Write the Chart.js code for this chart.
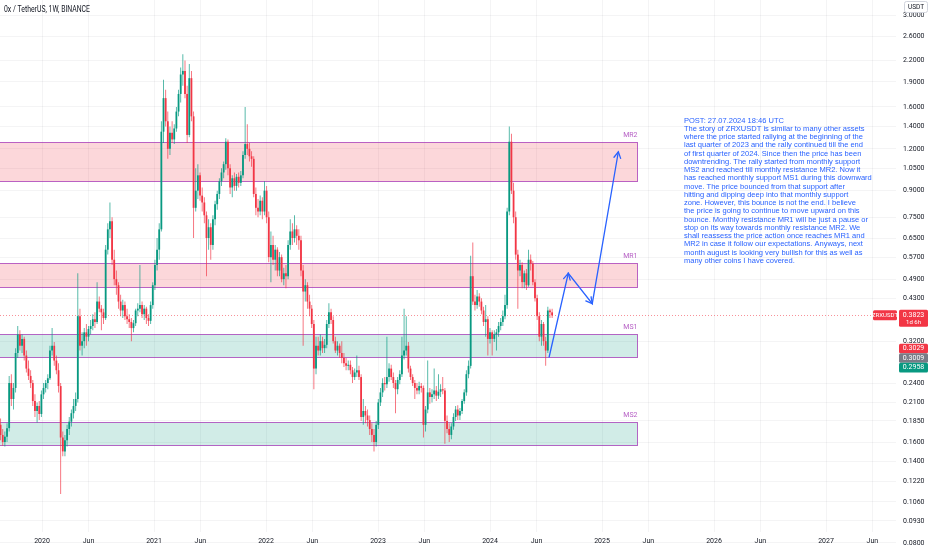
<!DOCTYPE html>
<html><head><meta charset="utf-8">
<script src="https://cdn.jsdelivr.net/npm/chart.js@4.4.1/dist/chart.umd.min.js"></script>
<style>html,body{margin:0;padding:0;background:#fff;overflow:hidden}#wrap{width:932px;height:550px}canvas{display:block}</style>
</head><body><div id="wrap"><canvas id="c" width="932" height="550" style="width:932px;height:550px"></canvas></div>
<script>
// ---- data ----
const firstWeek = '2019-08-19';
const weekOpen = [
0.180,0.168,0.160,0.166,0.176,0.240,0.215,0.232,0.295,0.335,
0.310,0.325,0.290,0.265,0.252,0.240,0.212,0.198,0.205,0.194,
0.222,0.232,0.240,0.248,0.300,0.310,0.280,0.262,0.235,0.165,
0.150,0.162,0.175,0.184,0.195,0.205,0.215,0.380,0.310,0.320,
0.340,0.330,0.348,0.355,0.372,0.365,0.420,0.400,0.390,0.375,
0.600,0.690,0.730,0.560,0.490,0.470,0.420,0.395,0.410,0.380,
0.372,0.365,0.350,0.362,0.395,0.400,0.410,0.385,0.400,0.375,
0.368,0.410,0.470,0.540,0.600,0.690,1.350,1.700,1.450,1.200,
1.340,1.280,1.380,1.550,1.750,2.000,2.050,1.750,1.320,1.950,
1.500,0.800,0.900,1.000,0.870,0.830,0.760,0.650,0.700,0.620,
0.740,0.820,0.880,0.960,1.020,1.080,1.260,1.050,0.920,0.980,
0.930,0.990,0.950,1.000,1.150,1.240,1.200,1.140,1.120,0.880,
0.800,0.780,0.840,0.780,0.900,0.750,0.570,0.620,0.560,0.600,
0.520,0.570,0.490,0.510,0.500,0.620,0.680,0.650,0.690,0.660,
0.640,0.520,0.450,0.470,0.420,0.400,0.360,0.265,0.310,0.300,
0.320,0.305,0.312,0.360,0.390,0.370,0.320,0.300,0.310,0.295,
0.285,0.275,0.270,0.272,0.262,0.250,0.258,0.262,0.250,0.190,
0.198,0.192,0.186,0.175,0.168,0.160,0.180,0.210,0.225,0.240,
0.238,0.250,0.265,0.250,0.240,0.230,0.245,0.255,0.290,0.300,
0.310,0.265,0.250,0.240,0.232,0.228,0.235,0.232,0.180,0.200,
0.225,0.218,0.222,0.228,0.220,0.226,0.230,0.228,0.185,0.175,
0.168,0.178,0.190,0.200,0.192,0.198,0.212,0.225,0.255,0.270,
0.500,0.420,0.410,0.435,0.420,0.395,0.365,0.372,0.325,0.340,
0.325,0.335,0.340,0.355,0.365,0.380,0.410,0.780,1.260,0.900,
0.750,0.580,0.520,0.540,0.480,0.510,0.470,0.560,0.545,0.480,
0.430,0.380,0.330,0.360,0.320,0.300,0.395,0.390];
const weekHigh = [
0.188,0.175,0.172,0.182,0.252,0.255,0.240,0.305,0.355,0.345,
0.335,0.330,0.300,0.280,0.262,0.245,0.222,0.210,0.212,0.228,
0.240,0.245,0.255,0.310,0.350,0.318,0.290,0.275,0.240,0.172,
0.168,0.180,0.190,0.200,0.215,0.225,0.510,0.400,0.340,0.350,
0.360,0.355,0.370,0.385,0.390,0.480,0.435,0.410,0.400,0.620,
0.720,0.830,0.750,0.600,0.520,0.480,0.440,0.425,0.420,0.400,
0.385,0.375,0.370,0.400,0.415,0.540,0.420,0.410,0.405,0.385,
0.420,0.480,0.560,0.650,0.720,1.450,1.930,1.800,1.550,1.400,
1.450,1.420,1.600,1.800,2.100,2.300,2.200,1.850,2.150,2.050,
1.550,1.050,1.080,1.020,0.920,0.860,0.780,0.740,0.720,0.760,
0.840,0.900,0.980,1.050,1.100,1.290,1.280,1.080,1.000,1.020,
1.010,1.020,1.030,1.180,1.600,1.420,1.250,1.180,1.140,0.920,
0.850,0.870,0.860,0.960,0.930,0.780,0.680,0.660,0.620,0.610,
0.590,0.580,0.530,0.540,0.640,0.740,0.720,0.760,0.710,0.690,
0.660,0.540,0.490,0.480,0.440,0.410,0.370,0.330,0.330,0.335,
0.330,0.325,0.370,0.415,0.400,0.380,0.330,0.320,0.315,0.320,
0.295,0.285,0.280,0.280,0.268,0.265,0.290,0.270,0.255,0.215,
0.205,0.200,0.192,0.182,0.175,0.185,0.215,0.232,0.248,0.250,
0.330,0.275,0.272,0.258,0.245,0.250,0.262,0.330,0.400,0.380,
0.318,0.270,0.255,0.245,0.240,0.242,0.240,0.236,0.205,0.280,
0.232,0.230,0.265,0.235,0.255,0.238,0.250,0.232,0.192,0.182,
0.182,0.195,0.205,0.206,0.202,0.215,0.230,0.262,0.280,0.575,
0.630,0.440,0.455,0.445,0.430,0.405,0.410,0.380,0.350,0.345,
0.345,0.348,0.365,0.375,0.395,0.440,0.800,1.400,1.330,0.950,
0.780,0.600,0.560,0.550,0.520,0.525,0.600,0.580,0.555,0.490,
0.440,0.390,0.370,0.365,0.330,0.405,0.400,0.400];
const weekLow = [
0.162,0.156,0.155,0.160,0.172,0.205,0.200,0.225,0.285,0.300,
0.295,0.280,0.258,0.245,0.232,0.205,0.190,0.183,0.186,0.190,
0.215,0.225,0.230,0.245,0.290,0.270,0.255,0.225,0.112,0.145,
0.145,0.155,0.168,0.178,0.188,0.198,0.210,0.300,0.290,0.305,
0.310,0.320,0.335,0.345,0.350,0.360,0.390,0.345,0.360,0.370,
0.580,0.650,0.540,0.470,0.440,0.400,0.380,0.375,0.370,0.360,
0.350,0.320,0.340,0.355,0.380,0.390,0.375,0.370,0.360,0.355,
0.360,0.400,0.455,0.520,0.560,0.680,1.250,1.400,1.120,1.150,
1.250,1.240,1.350,1.500,1.650,1.850,1.700,1.250,1.300,1.450,
0.650,0.780,0.850,0.840,0.780,0.720,0.500,0.600,0.560,0.600,
0.710,0.790,0.850,0.930,0.980,1.040,1.000,0.880,0.860,0.900,
0.900,0.920,0.930,0.980,1.120,1.150,1.100,1.060,0.860,0.760,
0.750,0.760,0.740,0.760,0.720,0.550,0.480,0.540,0.520,0.500,
0.500,0.480,0.470,0.460,0.490,0.600,0.620,0.630,0.620,0.600,
0.500,0.310,0.420,0.400,0.380,0.350,0.230,0.255,0.290,0.290,
0.295,0.295,0.305,0.350,0.360,0.315,0.295,0.290,0.285,0.275,
0.268,0.262,0.262,0.255,0.240,0.245,0.250,0.245,0.185,0.180,
0.182,0.178,0.168,0.160,0.150,0.155,0.175,0.205,0.218,0.228,
0.232,0.242,0.245,0.232,0.195,0.222,0.238,0.250,0.282,0.290,
0.258,0.245,0.235,0.215,0.222,0.222,0.225,0.165,0.172,0.195,
0.208,0.210,0.215,0.212,0.215,0.218,0.222,0.158,0.170,0.160,
0.163,0.174,0.185,0.186,0.186,0.194,0.208,0.220,0.248,0.265,
0.410,0.395,0.400,0.405,0.385,0.355,0.330,0.290,0.315,0.290,
0.318,0.300,0.330,0.345,0.355,0.372,0.400,0.760,0.880,0.720,
0.560,0.400,0.500,0.460,0.460,0.455,0.465,0.520,0.470,0.420,
0.370,0.320,0.310,0.310,0.270,0.295,0.375,0.375];
const weekClose = [
0.168,0.160,0.166,0.176,0.240,0.215,0.232,0.295,0.335,0.310,
0.325,0.290,0.265,0.252,0.240,0.212,0.198,0.205,0.194,0.222,
0.232,0.240,0.248,0.300,0.310,0.280,0.262,0.235,0.165,0.150,
0.162,0.175,0.184,0.195,0.205,0.215,0.380,0.310,0.320,0.340,
0.330,0.348,0.355,0.372,0.365,0.420,0.400,0.390,0.375,0.600,
0.690,0.730,0.560,0.490,0.470,0.420,0.395,0.410,0.380,0.372,
0.365,0.350,0.362,0.395,0.400,0.410,0.385,0.400,0.375,0.368,
0.410,0.470,0.540,0.600,0.690,1.350,1.700,1.450,1.200,1.340,
1.280,1.380,1.550,1.750,2.000,2.050,1.750,1.320,1.950,1.500,
0.800,0.900,1.000,0.870,0.830,0.760,0.650,0.700,0.620,0.740,
0.820,0.880,0.960,1.020,1.080,1.260,1.050,0.920,0.980,0.930,
0.990,0.950,1.000,1.150,1.240,1.200,1.140,1.120,0.880,0.800,
0.780,0.840,0.780,0.900,0.750,0.570,0.620,0.560,0.600,0.520,
0.570,0.490,0.510,0.500,0.620,0.680,0.650,0.690,0.660,0.640,
0.520,0.450,0.470,0.420,0.400,0.360,0.265,0.310,0.300,0.320,
0.305,0.312,0.360,0.390,0.370,0.320,0.300,0.310,0.295,0.285,
0.275,0.270,0.272,0.262,0.250,0.258,0.262,0.250,0.190,0.198,
0.192,0.186,0.175,0.168,0.160,0.180,0.210,0.225,0.240,0.238,
0.250,0.265,0.250,0.240,0.230,0.245,0.255,0.290,0.300,0.310,
0.265,0.250,0.240,0.232,0.228,0.235,0.232,0.180,0.200,0.225,
0.218,0.222,0.228,0.220,0.226,0.230,0.228,0.185,0.175,0.168,
0.178,0.190,0.200,0.192,0.198,0.212,0.225,0.255,0.270,0.500,
0.420,0.410,0.435,0.420,0.395,0.365,0.372,0.325,0.340,0.325,
0.335,0.340,0.355,0.365,0.380,0.410,0.780,1.260,0.900,0.750,
0.580,0.520,0.540,0.480,0.510,0.470,0.560,0.545,0.480,0.430,
0.380,0.330,0.360,0.320,0.300,0.395,0.390,0.382];

const zoneNames  = ['MR2','MR1','MS1','MS2'];
const zoneKinds  = ['resistance','resistance','support','support'];
const zoneTop    = [1.259,0.549,0.335,0.183];
const zoneBottom = [0.965,0.463,0.286,0.157];
const zoneFrom = 2019.40, zoneTo = 2025.31;

const pathTime  = [2024.527, 2024.699, 2024.913, 2025.146];
const pathPrice = [0.286, 0.510, 0.414, 1.176];

const yTickValues = [3.0,2.6,2.2,1.9,1.6,1.4,1.2,1.05,0.9,0.75,0.65,0.57,0.49,0.43,0.32,0.24,0.21,0.185,0.16,0.14,0.122,0.106,0.093,0.08];
const xTickDates  = ['2020-01-01','2020-06-01','2021-01-01','2021-06-01','2022-01-01','2022-06-01','2023-01-01','2023-06-01','2024-01-01','2024-06-01','2025-01-01','2025-06-01','2026-01-01','2026-06-01','2027-01-01','2027-06-01'];
const xTickLabels = ['2020','Jun','2021','Jun','2022','Jun','2023','Jun','2024','Jun','2025','Jun','2026','Jun','2027','Jun'];

const lastPrice = 0.3823, lastPriceText = '0.3823', countdown = '1d 6h', symbolText = 'ZRXUSDT';
const tagValues = [0.3029, 0.3009, 0.2958];
const tagTexts  = ['0.3029','0.3009','0.2958'];
const tagColors = ['#f23645','#787b86','#089981'];
const titleText = '0x / TetherUS, 1W, BINANCE';
const noteTime = 2025.732, notePrice = 1.456;
const noteLines = [
'POST: 27.07.2024 18:46 UTC',
'The story of ZRXUSDT is similar to many other assets',
'where the price started rallying at the beginning of the',
'last quarter of 2023 and the rally continued till the end',
'of first quarter of 2024. Since then the price has been',
'downtrending. The rally started from monthly support',
'MS2 and reached till monthly resistance MR2. Now it',
'has reached monthly support MS1 during this downward',
'move. The price bounced from that support after',
'hitting and dipping deep into that monthly support',
'zone. However, this bounce is not the end. I believe',
'the price is going to continue to move upward on this',
'bounce. Monthly resistance MR1 will be just a pause or',
'stop on its way towards monthly resistance MR2. We',
'shall reassess the price action once reaches MR1 and',
'MR2 in case it follow our expectations. Anyways, next',
'month august is looking very bullish for this as well as',
'many other coins I have covered.'];

// ---- helpers ----
const FAM = 'Roboto, "Liberation Sans", Arial, sans-serif';
const UP = '#089981', DN = '#f23645';
function fracYear(ms){const d=new Date(ms);const y=d.getUTCFullYear();const s=Date.UTC(y,0,1),e=Date.UTC(y+1,0,1);return y+(ms-s)/(e-s);}
const t0 = Date.parse(firstWeek+'T00:00:00Z');
const weekTimes = weekClose.map((_,i)=>fracYear(t0+i*7*86400000));
const xTickTimes = xTickDates.map(d=>fracYear(Date.parse(d+'T00:00:00Z')));
const candleColor = i => weekClose[i] >= weekOpen[i] ? UP : DN;
const wickColor = i => weekClose[i] >= weekOpen[i] ? 'rgba(8,153,129,0.75)' : 'rgba(242,54,69,0.75)';

function rr(ctx,x,y,w,h,r){ctx.beginPath();ctx.moveTo(x+r,y);ctx.lineTo(x+w-r,y);ctx.quadraticCurveTo(x+w,y,x+w,y+r);ctx.lineTo(x+w,y+h-r);ctx.quadraticCurveTo(x+w,y+h,x+w-r,y+h);ctx.lineTo(x+r,y+h);ctx.quadraticCurveTo(x,y+h,x,y+h-r);ctx.lineTo(x,y+r);ctx.quadraticCurveTo(x,y,x+r,y);ctx.closePath();}

const overlay = {
  id:'overlay',
  beforeDatasetsDraw(chart){
    const {ctx, chartArea:a, scales:{x,y}} = chart;
    ctx.save();
    ctx.beginPath(); ctx.rect(a.left,a.top,a.right-a.left,a.bottom-a.top); ctx.clip();
    zoneNames.forEach((n,k)=>{
      const x0 = x.getPixelForValue(zoneFrom), x1 = Math.round(x.getPixelForValue(zoneTo))+0.5;
      const y0 = Math.round(y.getPixelForValue(zoneTop[k]))+0.5, y1 = Math.round(y.getPixelForValue(zoneBottom[k]))+0.5;
      ctx.fillStyle = zoneKinds[k]==='resistance' ? 'rgba(242,54,69,0.2)' : 'rgba(8,153,129,0.19)';
      ctx.fillRect(x0,y0,x1-x0,y1-y0);
      ctx.strokeStyle = 'rgba(156,39,176,0.7)'; ctx.lineWidth = 1;
      ctx.strokeRect(x0,y0,x1-x0,y1-y0);
      ctx.fillStyle = 'rgba(156,39,176,0.75)'; ctx.font = '7px '+FAM;
      ctx.textAlign='right'; ctx.textBaseline='middle';
      ctx.fillText(n, x1, y0-7);
    });
    const py = Math.round(y.getPixelForValue(lastPrice))+0.5;
    ctx.setLineDash([1,2]); ctx.strokeStyle='rgba(242,54,69,0.55)'; ctx.lineWidth=1;
    ctx.beginPath(); ctx.moveTo(a.left,py); ctx.lineTo(a.right,py); ctx.stroke(); ctx.setLineDash([]);
    ctx.restore();
  },
  afterDatasetsDraw(chart){
    const {ctx, scales:{x,y}} = chart;
    ctx.save();
    ctx.strokeStyle='#2962ff'; ctx.lineWidth=1.3; ctx.lineCap='round';
    for(let k=1;k<pathTime.length;k++){
      const ax=x.getPixelForValue(pathTime[k-1]), ay=y.getPixelForValue(pathPrice[k-1]);
      const bx=x.getPixelForValue(pathTime[k]), by=y.getPixelForValue(pathPrice[k]);
      const ang=Math.atan2(by-ay,bx-ax), L=7, sp=0.5;
      ctx.beginPath();
      ctx.moveTo(bx-L*Math.cos(ang-sp), by-L*Math.sin(ang-sp));
      ctx.lineTo(bx,by);
      ctx.lineTo(bx-L*Math.cos(ang+sp), by-L*Math.sin(ang+sp));
      ctx.stroke();
    }
    const tx = x.getPixelForValue(noteTime), ty = y.getPixelForValue(notePrice);
    ctx.font = '7.6px "Liberation Sans", Arial, sans-serif';
    const sx = 179/ctx.measureText(noteLines[2]).width;
    ctx.fillStyle='#2962ff'; ctx.textAlign='left'; ctx.textBaseline='middle';
    ctx.translate(tx,ty); ctx.scale(sx,1);
    noteLines.forEach((l,j)=>ctx.fillText(l,0,j*8.24));
    ctx.restore();
  },
  afterDraw(chart){
    const {ctx, scales:{y}} = chart;
    ctx.save();
    ctx.font = '8.5px '+FAM; ctx.fillStyle='#131722'; ctx.textAlign='left'; ctx.textBaseline='middle';
    const tw = ctx.measureText(titleText).width;
    ctx.save(); ctx.translate(4,10); ctx.scale(Math.min(1,86/tw),1); ctx.fillText(titleText,0,0); ctx.restore();
    ctx.fillStyle='#fff'; rr(ctx,904.5,1.5,23,11,2); ctx.fill();
    ctx.strokeStyle='#d1d4dc'; ctx.lineWidth=1; ctx.stroke();
    ctx.fillStyle='#131722'; ctx.font='6.5px '+FAM; ctx.textAlign='center';
    ctx.fillText('USDT',916,7.5);
    const py = y.getPixelForValue(lastPrice);
    ctx.fillStyle=DN;
    rr(ctx,873,py-5,24,10,1.5); ctx.fill();
    rr(ctx,899,py-5.5,29,17,1.5); ctx.fill();
    ctx.fillStyle='#fff'; ctx.font='6px '+FAM; ctx.textAlign='center';
    ctx.fillText(symbolText,885,py);
    ctx.font='7px '+FAM; ctx.fillText(lastPriceText,913.5,py);
    ctx.font='6px '+FAM; ctx.fillText(countdown,913.5,py+7.5);
    let top = y.getPixelForValue(tagValues[0]) - 5.5;
    tagTexts.forEach((t,k)=>{
      ctx.fillStyle=tagColors[k]; rr(ctx,899,top,29,9.6,1.5); ctx.fill();
      ctx.fillStyle='#fff'; ctx.font='7px '+FAM; ctx.fillText(t,913.5,top+4.9);
      top += 9.6;
    });
    ctx.restore();
  }
};

new Chart(document.getElementById('c'), {
  type:'bar',
  data:{ datasets:[
    { label:'wick', data: weekTimes.map((t,i)=>({x:t, y:[weekLow[i], weekHigh[i]]})),
      backgroundColor: c=>wickColor(c.dataIndex), barThickness:0.9, grouped:false, inflateAmount:0, borderWidth:0, order:3 },
    { label:'body', data: weekTimes.map((t,i)=>({x:t, y:[weekOpen[i], weekClose[i]]})),
      backgroundColor: c=>candleColor(c.dataIndex), barThickness:1.8, grouped:false, inflateAmount:0, borderWidth:0, minBarLength:1, order:2 },
    { type:'line', label:'path', data: pathTime.map((t,k)=>({x:t, y:pathPrice[k]})),
      borderColor:'#2962ff', borderWidth:1.3, pointRadius:0, tension:0, fill:false, order:1 }
  ]},
  options:{
    responsive:false, animation:false,
    layout:{padding:0},
    plugins:{legend:{display:false}, tooltip:{enabled:false}},
    scales:{
      x:{ type:'linear', min:2019.625, max:2027.625, offset:false,
          grid:{color:'rgba(42,46,57,0.05)', drawTicks:false, offset:false},
          border:{display:false},
          ticks:{ autoSkip:false, maxRotation:0, padding:5, color:'#131722', font:{size:7, family:FAM},
                  callback:(v,i)=>xTickLabels[i] },
          afterBuildTicks:s=>{ s.ticks = xTickTimes.map(v=>({value:v})); },
          afterFit:s=>{ s.height = 18; s.paddingLeft = 0; s.paddingRight = 0; } },
      y:{ type:'logarithmic', position:'right', min:0.0862, max:3.337,
          grid:{color:'rgba(42,46,57,0.05)', drawTicks:false},
          border:{display:false},
          ticks:{ autoSkip:false, padding:7, color:'#131722', font:{size:7, family:FAM},
                  callback:(v,i)=>yTickValues[i].toFixed(4) },
          afterBuildTicks:s=>{ s.ticks = yTickValues.map(v=>({value:v})); },
          afterFit:s=>{ s.width = 36; s.paddingTop = 0; s.paddingBottom = 0; } }
    }
  },
  plugins:[overlay]
});
</script></body></html>
